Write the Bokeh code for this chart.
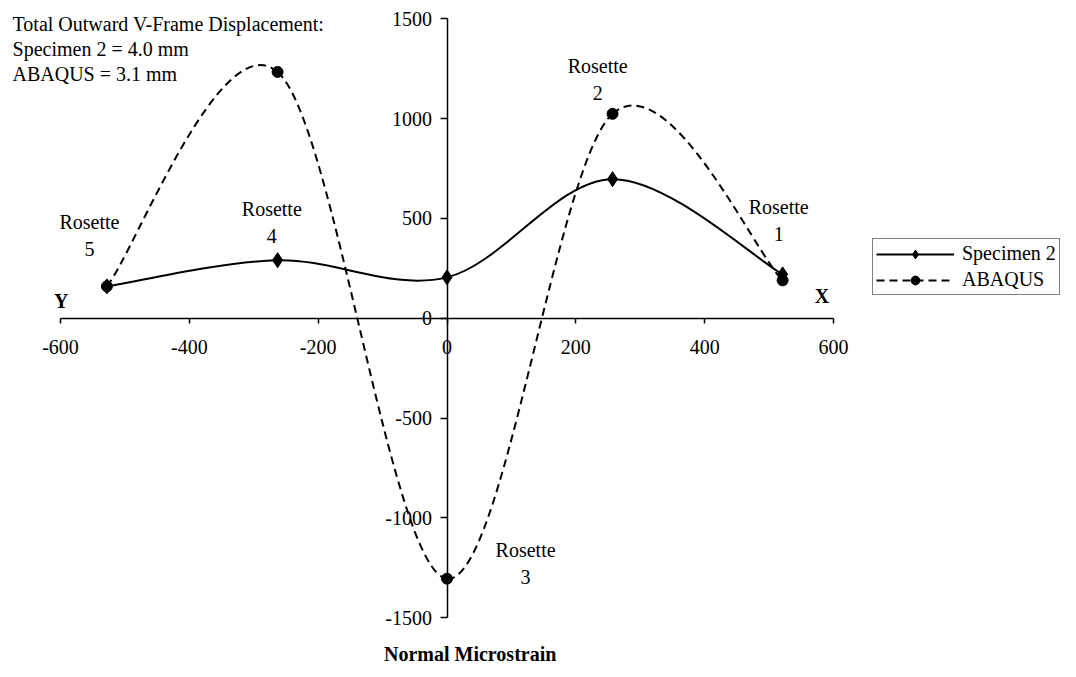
from bokeh.plotting import figure
from bokeh.models import (Range1d, LinearAxis, FixedTicker, Legend, LegendItem,
                          Label, ColumnDataSource)
from bokeh.embed import file_html
from bokeh.resources import INLINE

# ---------------- data ----------------
rosette_names = ["5", "4", "3", "2", "1"]
rosette_x = [-528, -263, 0, 257, 521]
specimen2 = [160, 291, 205, 697, 220]
abaqus = [160, 1234, -1304, 1024, 190]
x_ticks = [-600, -400, -200, 0, 200, 400, 600]
y_ticks = [-1500, -1000, -500, 0, 500, 1000, 1500]
info_lines = ["Total Outward V-Frame Displacement:",
              "Specimen 2 = 4.0 mm",
              "ABAQUS = 3.1 mm"]
series_names = ["Specimen 2", "ABAQUS"]
axis_title = "Normal Microstrain"

# label anchors (annotation layout, data units)
rosette_label_pos = {"5": (-555, 414), "4": (-272, 479), "3": (122, -1227),
                     "2": (234, 1197), "1": (515, 489)}

FONT = "Liberation Serif"
W, H = 1060, 668
# drawing area: the axes run over x -600..600 and y -1500..1500,
# the visible frame is widened so the side texts are not clipped
XS, XC = 773 / 1200.0, 446.5     # px per unit, px of x = 0
YS, YC = 599 / 3000.0, 317.8     # px per unit, px of y = 0


def smooth_segments(xs, ys):
    """Excel-style smoothed line: cubic Bezier control points (Catmull-Rom)."""
    P = list(zip(xs, ys))
    n = len(P)
    d = dict(x0=[], y0=[], x1=[], y1=[], cx0=[], cy0=[], cx1=[], cy1=[])
    for i in range(n - 1):
        p0 = P[i - 1] if i > 0 else P[i]
        p1, p2 = P[i], P[i + 1]
        p3 = P[i + 2] if i + 2 < n else P[i + 1]
        d["x0"].append(p1[0]); d["y0"].append(p1[1])
        d["x1"].append(p2[0]); d["y1"].append(p2[1])
        d["cx0"].append(p1[0] + (p2[0] - p0[0]) / 6.0)
        d["cy0"].append(p1[1] + (p2[1] - p0[1]) / 6.0)
        d["cx1"].append(p2[0] - (p3[0] - p1[0]) / 6.0)
        d["cy1"].append(p2[1] - (p3[1] - p1[1]) / 6.0)
    return ColumnDataSource(d)


p = figure(frame_width=W, frame_height=H, min_border=0,
           x_range=Range1d(-XC / XS, (W - XC) / XS),
           y_range=Range1d((YC - H) / YS, YC / YS),
           x_axis_type=None, y_axis_type=None,
           toolbar_location=None, output_backend="svg")
p.outline_line_color = None
p.xgrid.visible = False
p.ygrid.visible = False
p.background_fill_color = "white"
p.border_fill_color = "white"

# axes crossing at origin
xaxis = LinearAxis(fixed_location=0, bounds=(x_ticks[0], x_ticks[-1]),
                   ticker=FixedTicker(ticks=x_ticks),
                   major_label_overrides={t: str(t) for t in x_ticks})
yaxis = LinearAxis(fixed_location=0, bounds=(y_ticks[0], y_ticks[-1]),
                   ticker=FixedTicker(ticks=y_ticks),
                   major_label_overrides={t: str(t) for t in y_ticks})
for ax, tick_out, standoff in ((xaxis, 5, 17), (yaxis, 7, 8)):
    ax.axis_line_color = "black"
    ax.axis_line_width = 1.5
    ax.major_tick_line_color = "black"
    ax.major_tick_line_width = 1.5
    ax.major_tick_in = 0
    ax.major_tick_out = tick_out
    ax.minor_tick_in = 0
    ax.minor_tick_out = 0
    ax.major_label_standoff = standoff
    ax.major_label_text_font = FONT
    ax.major_label_text_font_size = "20px"
    ax.major_label_text_color = "black"
p.add_layout(xaxis, "below")
p.add_layout(yaxis, "left")

# smoothed curves
spec_curve = p.bezier(x0="x0", y0="y0", x1="x1", y1="y1", cx0="cx0", cy0="cy0",
                      cx1="cx1", cy1="cy1", source=smooth_segments(rosette_x, specimen2),
                      line_color="black", line_width=2)
abq_curve = p.bezier(x0="x0", y0="y0", x1="x1", y1="y1", cx0="cx0", cy0="cy0",
                     cx1="cx1", cy1="cy1", source=smooth_segments(rosette_x, abaqus),
                     line_color="black", line_width=2, line_dash="8 5")
spec_pts = p.scatter(rosette_x, specimen2, marker="diamond", size=15, color="black")
abq_pts = p.scatter(rosette_x, abaqus, marker="circle", size=11, color="black")

legend = Legend(items=[LegendItem(label=series_names[0], renderers=[spec_curve, spec_pts]),
                       LegendItem(label=series_names[1], renderers=[abq_curve, abq_pts])],
                location=(872, H - 295), margin=0, padding=3, spacing=3,
                label_height=20, glyph_height=22, glyph_width=78, label_standoff=8,
                label_text_font=FONT, label_text_font_size="20px",
                label_text_color="black",
                border_line_color="black", border_line_width=1.5,
                background_fill_color="white", background_fill_alpha=1)
p.add_layout(legend, "center")

# rosette labels
for name in rosette_names:
    lx, ly = rosette_label_pos[name]
    p.add_layout(Label(x=lx, y=ly, text="Rosette\n" + name, text_align="center",
                       text_baseline="middle", text_line_height=1.25,
                       text_font=FONT, text_font_size="20px", text_color="black"))

# info block
p.add_layout(Label(x=-674.5, y=1530, text="\n".join(info_lines), text_align="left",
                   text_baseline="top", text_line_height=1.15,
                   text_font=FONT, text_font_size="20px", text_color="black"))

# X / Y axis names and axis title
p.add_layout(Label(x=-599, y=85, text="Y", text_align="center", text_baseline="middle",
                   text_font=FONT, text_font_size="20px", text_font_style="bold",
                   text_color="black"))
p.add_layout(Label(x=582, y=110, text="X", text_align="center", text_baseline="middle",
                   text_font=FONT, text_font_size="20px", text_font_style="bold",
                   text_color="black"))
p.add_layout(Label(x=36, y=-1680, text=axis_title, text_align="center",
                   text_baseline="middle", text_font=FONT, text_font_size="20px",
                   text_font_style="bold", text_color="black"))

open("out.html", "w").write(file_html(p, INLINE))
